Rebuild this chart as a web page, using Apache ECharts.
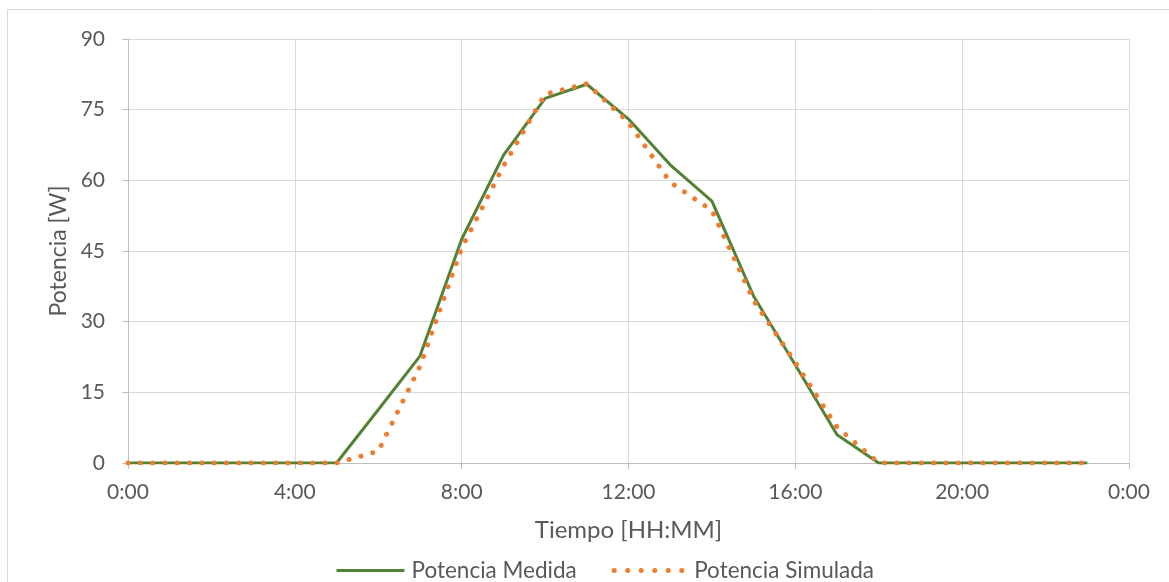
<!DOCTYPE html>
<html>
<head>
<meta charset="utf-8">
<script src="https://cdn.jsdelivr.net/npm/echarts@6/dist/echarts.min.js"></script>
<style>
  html, body { margin: 0; padding: 0; background: #fff; }
  #chart { width: 1169px; height: 582px; }
</style>
</head>
<body>
<div id="chart"></div>
<script>
// Hourly samples (hour of day)
const hours = [0, 1, 2, 3, 4, 5, 6, 7, 8, 9, 10, 11, 12, 13, 14, 15, 16, 17, 18, 19, 20, 21, 22, 23];
// Measured power [W]
const potenciaMedida = [0, 0, 0, 0, 0, 0, 11.3, 22.7, 47.5, 65.3, 77.4, 80.4, 73, 63.3, 55.6, 35.4, 20.8, 6, 0, 0, 0, 0, 0, 0];
// Simulated power [W]
const potenciaSimulada = [0, 0, 0, 0, 0, 0, 2.5, 20.5, 45.6, 63, 78.3, 80.5, 72.3, 59.6, 53.6, 34.5, 21.3, 7.6, 0, 0, 0, 0, 0, 0];
const yTicks = [0, 15, 30, 45, 60, 75, 90];
const xTickHours = [0, 4, 8, 12, 16, 20, 24];

const toPairs = (vals) => hours.map((h, i) => [h, vals[i]]);

const FONT = 'Lato';
const TEXT = '#595959';
const GRID = '#d9d9d9';
const AXIS = '#bfbfbf';
const GREEN = '#548235';
const ORANGE = '#ed7d31';

const medidaLine = { color: GREEN, width: 3, join: 'round' };
const simuladaLine = { color: ORANGE, width: 5, type: [0.01, 12.3], cap: 'round', join: 'round' };

const chart = echarts.init(document.getElementById('chart'), null, { renderer: 'canvas' });
chart.setOption({
  animation: false,
  backgroundColor: '#ffffff',
  textStyle: { fontFamily: FONT, color: TEXT },
  graphic: [{
    type: 'rect',
    silent: true,
    z: -10,
    shape: { x: 7.5, y: 9.5, width: 1200, height: 620 },
    style: { fill: 'none', stroke: GRID, lineWidth: 1 }
  }],
  grid: { left: 128, right: 40, top: 39, bottom: 119 },
  legend: {
    left: 330,
    top: 554,
    itemWidth: 68,
    itemHeight: 20,
    itemGap: 35,
    itemStyle: { opacity: 0 },
    textStyle: { fontFamily: FONT, fontSize: 22.5, color: TEXT },
    data: [
      {
        name: 'Potencia Medida',
        lineStyle: { width: 3, type: 'solid', color: GREEN },
        textStyle: { padding: [0, 0, 0, 2] }
      },
      {
        name: 'Potencia Simulada',
        lineStyle: { width: 5, type: [0.01, 13.5], cap: 'round', color: ORANGE },
        textStyle: { padding: [0, 0, 0, 7] }
      }
    ]
  },
  xAxis: {
    type: 'value',
    min: xTickHours[0],
    max: xTickHours[xTickHours.length - 1],
    interval: 4,
    name: 'Tiempo [HH:MM]',
    nameLocation: 'middle',
    nameGap: 55,
    nameTextStyle: { fontFamily: FONT, fontSize: 24, color: TEXT },
    axisLine: { show: true, onZero: false, lineStyle: { color: AXIS, width: 1 } },
    axisTick: { show: true, length: 6, lineStyle: { color: AXIS } },
    axisLabel: {
      fontFamily: FONT, fontSize: 21, color: TEXT, margin: 19,
      formatter: (v) => (v % 24) + ':00'
    },
    splitLine: { show: true, lineStyle: { color: GRID, width: 1 } }
  },
  yAxis: {
    type: 'value',
    min: yTicks[0],
    max: yTicks[yTicks.length - 1],
    interval: 15,
    name: 'Potencia [W]',
    nameLocation: 'middle',
    nameGap: 53,
    nameTextStyle: { fontFamily: FONT, fontSize: 23, color: TEXT },
    axisLine: { show: true, lineStyle: { color: AXIS, width: 1 } },
    axisTick: { show: true, length: 6, lineStyle: { color: AXIS } },
    axisLabel: { fontFamily: FONT, fontSize: 21, color: TEXT, margin: 23 },
    splitLine: { show: true, lineStyle: { color: GRID, width: 1 } }
  },
  series: [
    {
      name: 'Potencia Medida',
      type: 'line',
      data: toPairs(potenciaMedida),
      showSymbol: false,
      symbol: 'none',
      lineStyle: medidaLine,
      itemStyle: { color: GREEN },
      z: 2
    },
    {
      name: 'Potencia Simulada',
      type: 'line',
      data: toPairs(potenciaSimulada),
      showSymbol: false,
      symbol: 'none',
      lineStyle: simuladaLine,
      itemStyle: { color: ORANGE },
      z: 3
    }
  ]
});
</script>
</body>
</html>
